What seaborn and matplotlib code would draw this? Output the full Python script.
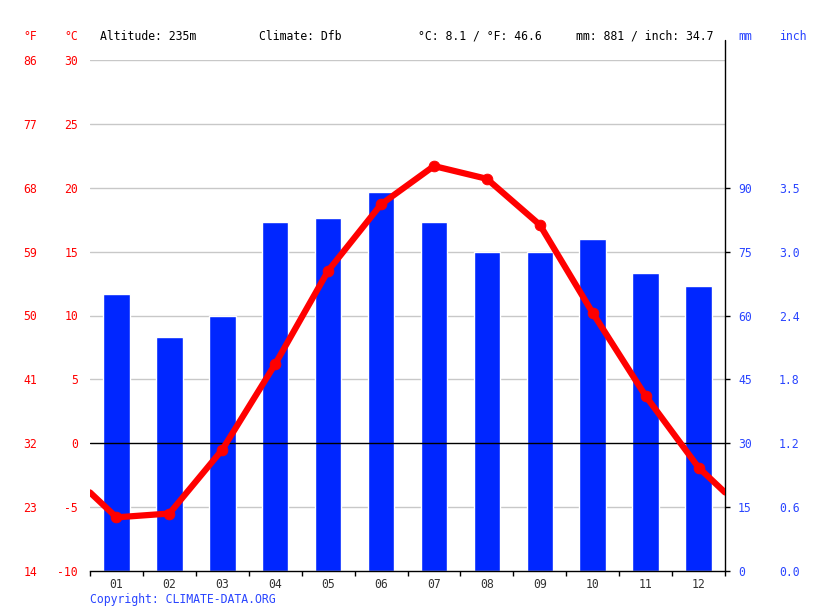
import numpy as np
import pandas as pd
import seaborn as sns
import matplotlib.pyplot as plt
from matplotlib.ticker import FuncFormatter

# monthly climate values
months = ['01', '02', '03', '04', '05', '06', '07', '08', '09', '10', '11', '12']
precip_mm = [65, 55, 60, 82, 83, 89, 82, 75, 75, 78, 70, 67]
temp_c = [-5.8, -5.5, -0.5, 6.2, 13.5, 18.7, 21.7, 20.7, 17.1, 10.2, 3.7, -1.9]

temp_ticks = [-10, -5, 0, 5, 10, 15, 20, 25, 30]
mm_ticks = [0, 15, 30, 45, 60, 75, 90]

header = ['Altitude: 235m', 'Climate: Dfb', '°C: 8.1 / °F: 46.6', 'mm: 881 / inch: 34.7']

RED = '#ff0000'
BLUE = '#0026ff'
LBLUE = '#2a45ff'

sns.set_style('white')
plt.rcParams['font.family'] = ['DejaVu Sans Mono']
plt.rcParams['axes.unicode_minus'] = False
fs = 8.3
PX = 72 / 100  # points per pixel

W, H = 815, 611
fig = plt.figure(figsize=(W / 100, H / 100), dpi=100)
L, R, T, B = 90, 725, 60, 571
ax = fig.add_axes([L / W, 1 - B / H, (R - L) / W, (B - T) / H])

df = pd.DataFrame({'month': months, 'mm': precip_mm})

# grid at every 5 degC (= 15 mm), under the bars
for v in np.arange(15, 121, 15):
    if v != 30:
        ax.axhline(v, color='#c8c8c8', lw=1, zorder=0)

sns.barplot(data=df, x='month', y='mm', color=BLUE, width=0.5, saturation=1,
            ax=ax, zorder=2)
ax.set_ylim(0, 120)
ax.set_xlim(-0.5, 11.5)
ax.set_xlabel('')
ax.set_ylabel('')

# temperature on a twin axis
ax2 = ax.twinx()
ax2.set_ylim(-10, 30)
ax2.set_xlim(-0.5, 11.5)
ax2.axhline(0, color='black', lw=1, zorder=1)

edge = (temp_c[0] + temp_c[-1]) / 2
line_x = [-0.5] + list(range(12)) + [11.5]
line_y = [edge] + temp_c + [edge]
sns.lineplot(x=line_x, y=line_y, color=RED, lw=4.5, ax=ax2, zorder=3, sort=False)
sns.scatterplot(x=list(range(12)), y=temp_c, color=RED, s=60, edgecolor=RED, ax=ax2, zorder=4)

# x ticks at month boundaries, labels at centres
ax.set_xticks(np.arange(-0.5, 12, 1))
ax.set_xticklabels([])
ax.set_xticks(np.arange(12), minor=True)
ax.set_xticklabels(months, minor=True)
ax.tick_params(axis='x', which='major', length=5 * PX, width=1, color='black', direction='out', bottom=True)
ax.tick_params(axis='x', which='minor', length=0, pad=7 * PX, labelsize=fs, labelcolor='#333333')

# mm axis on the right
ax.yaxis.tick_right()
ax.set_yticks(mm_ticks)
ax.tick_params(axis='y', length=5 * PX, width=1, color='black', direction='out',
               left=False, right=True, labelleft=False, labelright=True,
               pad=8 * PX, labelsize=fs, labelcolor=LBLUE)
for s in ['top', 'left', 'right']:
    ax.spines[s].set_visible(False)
ax.spines['bottom'].set_color('black')
ax.spines['bottom'].set_linewidth(1)
ax.plot([1, 1], [0, 1 + 20 / (B - T)], transform=ax.transAxes, color='black',
        lw=1, clip_on=False, zorder=5)

# inch axis
inch_ax = ax.secondary_yaxis('right')
inch_ax.set_yticks(mm_ticks)
inch_ax.yaxis.set_major_formatter(FuncFormatter(lambda v, p: f'{v / 25.4:.1f}'))
inch_ax.tick_params(length=0, pad=54 * PX, labelsize=fs, labelcolor=LBLUE)
inch_ax.spines['right'].set_visible(False)

ax2.yaxis.tick_left()
ax2.set_yticks(temp_ticks)
ax2.yaxis.set_major_formatter(FuncFormatter(lambda v, p: f'{v:.0f}'))
ax2.tick_params(axis='y', length=0, pad=12 * PX, labelsize=fs, labelcolor=RED,
                left=True, right=False, labelright=False, labelleft=True)
for s in ax2.spines.values():
    s.set_visible(False)

f_ax = ax2.secondary_yaxis('left', functions=(lambda c: c * 9 / 5 + 32, lambda f: (f - 32) * 5 / 9))
f_ax.set_yticks([c * 9 / 5 + 32 for c in temp_ticks])
f_ax.yaxis.set_major_formatter(FuncFormatter(lambda v, p: f'{v:.0f}'))
f_ax.tick_params(length=0, pad=53 * PX, labelsize=fs, labelcolor=RED)
f_ax.spines['left'].set_visible(False)

# header line
hy = 1 - 36 / H
fig.text(37 / W, hy, '°F', color=RED, fontsize=fs, ha='right', va='center')
fig.text(78 / W, hy, '°C', color=RED, fontsize=fs, ha='right', va='center')
for xpos, txt in zip([100, 259, 418, 576], header):
    fig.text(xpos / W, hy, txt, color='black', fontsize=fs, ha='left', va='center')
fig.text(738 / W, hy, 'mm', color=LBLUE, fontsize=fs, ha='left', va='center')
fig.text(779 / W, hy, 'inch', color=LBLUE, fontsize=fs, ha='left', va='center')

fig.text(90 / W, 1 - 599 / H, 'Copyright: CLIMATE-DATA.ORG', color=LBLUE, fontsize=fs,
         ha='left', va='center')

fig.savefig('out.png', dpi=100)
